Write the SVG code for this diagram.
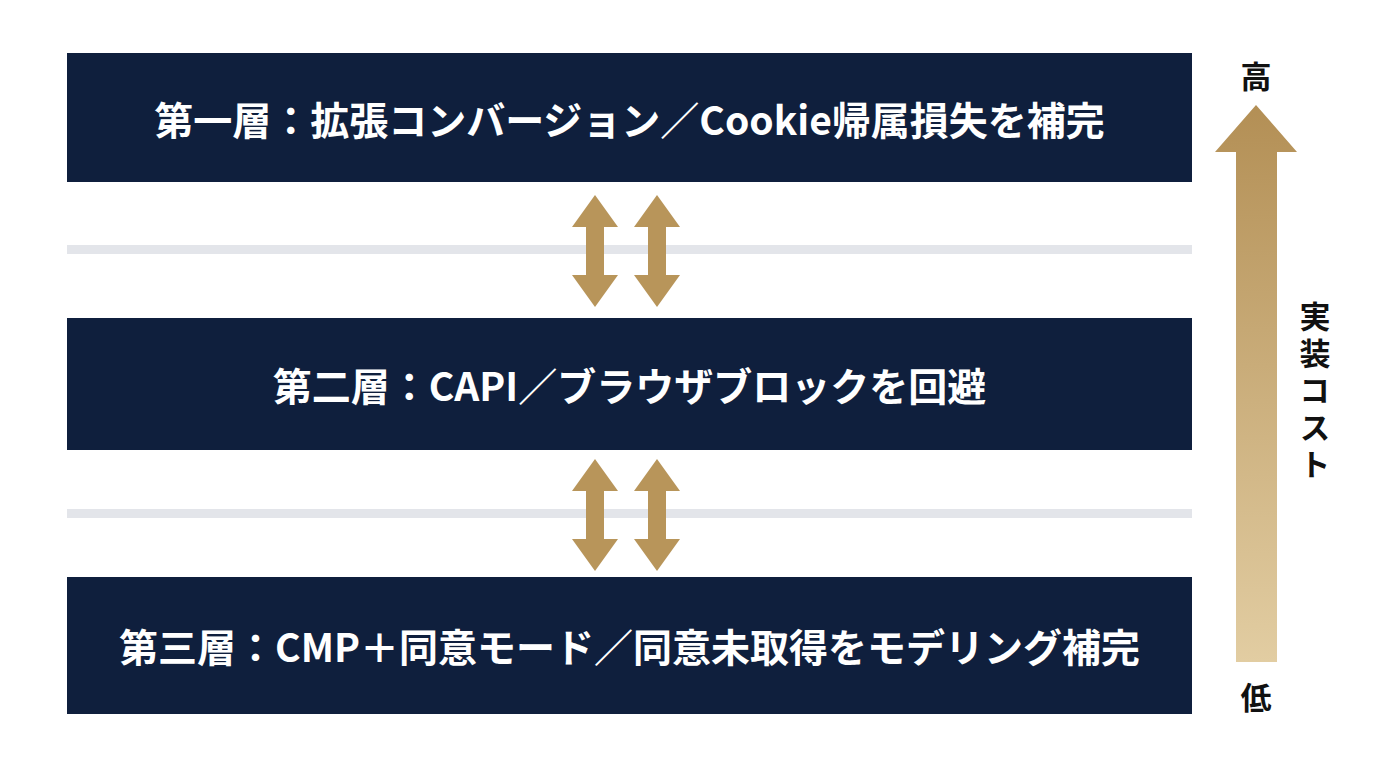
<svg xmlns="http://www.w3.org/2000/svg" width="1376" height="768" viewBox="0 0 1376 768">
<defs>
<style>
.box{fill:#0f1f3d;}
.sep{fill:#e3e5ea;}
.lbl{font-family:"Noto Sans CJK JP","Noto Sans",sans-serif;font-weight:700;font-size:39px;fill:#ffffff;text-anchor:middle;dominant-baseline:central;}
.side{font-family:"Noto Sans CJK JP","Noto Sans",sans-serif;font-weight:700;font-size:31px;fill:#111111;text-anchor:middle;dominant-baseline:central;}
.vert{writing-mode:vertical-rl;text-orientation:upright;letter-spacing:6px;}
.dbl{fill:#b8955a;}
</style>
<linearGradient id="cost" x1="0" y1="0" x2="0" y2="1">
<stop offset="0" stop-color="#b38f55"/>
<stop offset="1" stop-color="#e2cda2"/>
</linearGradient>
<path id="darr" d="M0,0 L23,32 L9,32 L9,80 L23,80 L0,112 L-23,80 L-9,80 L-9,32 L-23,32 Z"/>
</defs>
<rect width="1376" height="768" fill="#ffffff"/>
<g id="separators">
<rect class="sep" x="67" y="245" width="1125" height="9"/>
<rect class="sep" x="67" y="509" width="1125" height="9"/>
</g>
<g id="layer1">
<rect class="box" x="67" y="53" width="1125" height="129"/>
<text class="lbl" x="629.5" y="118">第一層：拡張コンバージョン／Cookie帰属損失を補完</text>
</g>
<g id="layer2">
<rect class="box" x="67" y="318" width="1125" height="132"/>
<text class="lbl" x="629.5" y="384">第二層：CAPI／ブラウザブロックを回避</text>
</g>
<g id="layer3">
<rect class="box" x="67" y="577" width="1125" height="137"/>
<text class="lbl" x="629.5" y="645">第三層：CMP＋同意モード／同意未取得をモデリング補完</text>
</g>
<g id="connectors">
<use href="#darr" class="dbl" x="595" y="195"/>
<use href="#darr" class="dbl" x="657" y="195"/>
<use href="#darr" class="dbl" x="595" y="459"/>
<use href="#darr" class="dbl" x="657" y="459"/>
</g>
<g id="cost-axis">
<path d="M1256,105 L1297,152 L1277,152 L1277,662 L1236,662 L1236,152 L1215,152 Z" fill="url(#cost)"/>
<text class="side" x="1256" y="74">高</text>
<text class="side" x="1256" y="695">低</text>
<text class="side vert" x="1315" y="393">実装コスト</text>
</g>
</svg>
